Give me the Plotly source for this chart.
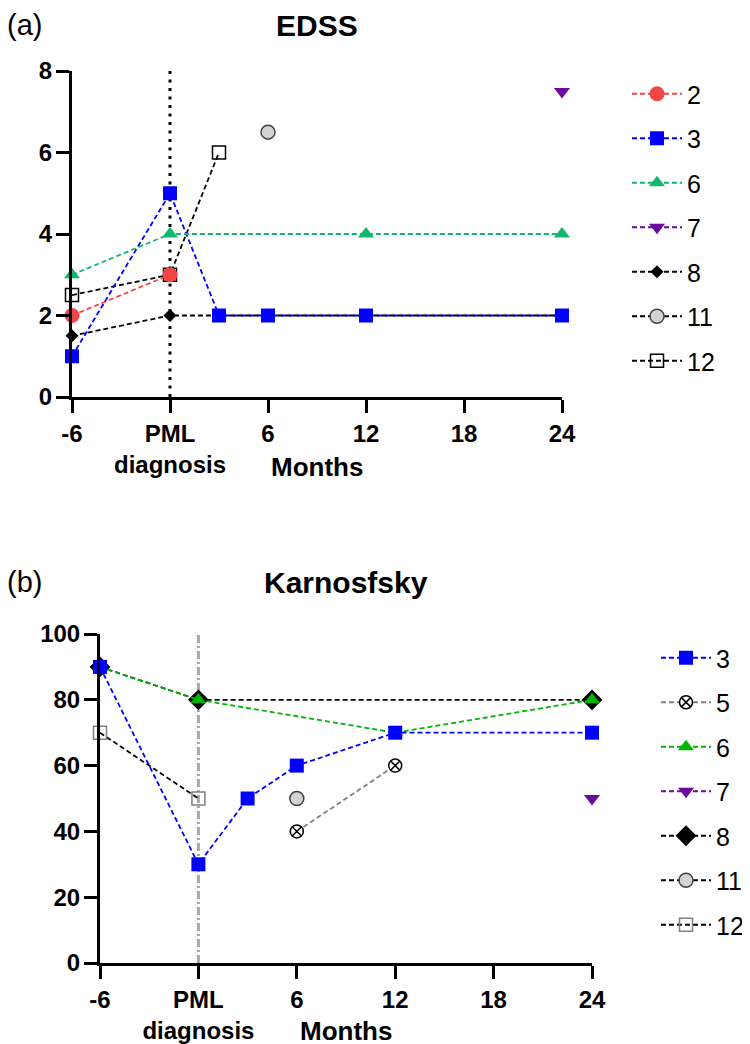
import plotly.graph_objects as go

FONT = "Liberation Sans, Arial, sans-serif"

# ---------------- data ----------------
tick_vals = [-6, 0, 6, 12, 18, 24]
tick_text = ["-6", "PML<br>diagnosis", "6", "12", "18", "24"]
edss_ticks = [0, 2, 4, 6, 8]
karn_ticks = [0, 20, 40, 60, 80, 100]

pml_x = [0, 0]
edss_vline_y = [0, 8]
karn_vline_y = [0, 100]

edss_2_x = [-6, 0];                 edss_2_y = [2, 3]
edss_3_x = [-6, 0, 3, 6, 12, 24];   edss_3_y = [1, 5, 2, 2, 2, 2]
edss_6_x = [-6, 0, 12, 24];         edss_6_y = [3, 4, 4, 4]
edss_7_x = [24];                    edss_7_y = [7.5]
edss_8_x = [-6, 0, 3, 6, 12, 24];   edss_8_y = [1.5, 2, 2, 2, 2, 2]
edss_11_x = [6];                    edss_11_y = [6.5]
edss_12_x = [-6, 0, 3];             edss_12_y = [2.5, 3, 6]

karn_3_x = [-6, 0, 3, 6, 12, 24];   karn_3_y = [90, 30, 50, 60, 70, 70]
karn_5_x = [6, 12];                 karn_5_y = [40, 60]
karn_6_x = [-6, 0, 12, 24];         karn_6_y = [90, 80, 70, 80]
karn_7_x = [24];                    karn_7_y = [50]
karn_8_x = [-6, 0, 24];             karn_8_y = [90, 80, 80]
karn_11_x = [6];                    karn_11_y = [50]
karn_12_x = [-6, 0];                karn_12_y = [70, 50]

RED = "#F24545"
BLUE = "#0000FF"
GREEN_A = "#12B76E"
GREEN_B = "#00B400"
PURPLE = "#6A0A9E"
GREYFILL = "#D3D3D3"
DASH = "5px,3px"

fig = go.Figure()

# vertical reference lines
fig.add_trace(go.Scatter(x=pml_x, y=edss_vline_y, mode="lines", xaxis="x", yaxis="y",
                         line=dict(color="black", width=3, dash="3px,5.5px"),
                         showlegend=False, hoverinfo="skip"))
fig.add_trace(go.Scatter(x=pml_x, y=karn_vline_y, mode="lines", xaxis="x2", yaxis="y2",
                         line=dict(color="#A6A6A6", width=3, dash="8px,3px,2px,3px"),
                         showlegend=False, hoverinfo="skip"))


def add(name, x, y, ax, legend, rank, symbol, size, mcolor, lcolor,
        mline_color=None, mline_width=0):
    fig.add_trace(go.Scatter(
        x=x, y=y, name=name, mode="lines+markers",
        xaxis="x" if ax == 1 else "x2", yaxis="y" if ax == 1 else "y2",
        legend=legend, legendgroup=legend + name, legendrank=rank,
        line=dict(color=lcolor, width=1.8, dash=DASH),
        marker=dict(symbol=symbol, size=size, color=mcolor,
                    line=dict(color=mline_color or mcolor, width=mline_width)),
        cliponaxis=False))


# panel (a) – draw order chosen so overlaps match
add("8", edss_8_x, edss_8_y, 1, "legend", 5, "diamond", 10, "black", "black")
add("12", edss_12_x, edss_12_y, 1, "legend", 7, "square-open", 13, "black", "black", "black", 1.5)
add("2", edss_2_x, edss_2_y, 1, "legend", 1, "circle", 15, RED, RED)
add("3", edss_3_x, edss_3_y, 1, "legend", 2, "square", 14, BLUE, BLUE)
add("6", edss_6_x, edss_6_y, 1, "legend", 3, "triangle-up", 14, GREEN_A, GREEN_A)
add("7", edss_7_x, edss_7_y, 1, "legend", 4, "triangle-down", 14, PURPLE, PURPLE)
add("11", edss_11_x, edss_11_y, 1, "legend", 6, "circle", 14, GREYFILL, "black", "#404040", 1.5)

# panel (b)
add("8", karn_8_x, karn_8_y, 2, "legend2", 5, "diamond", 16, "black", "black")
add("6", karn_6_x, karn_6_y, 2, "legend2", 3, "triangle-up", 14, GREEN_B, GREEN_B)
add("3", karn_3_x, karn_3_y, 2, "legend2", 1, "square", 14, BLUE, BLUE)
add("5", karn_5_x, karn_5_y, 2, "legend2", 2, "circle-x", 13, "white", "#808080", "black", 1.5)
add("7", karn_7_x, karn_7_y, 2, "legend2", 4, "triangle-down", 14, PURPLE, PURPLE)
add("11", karn_11_x, karn_11_y, 2, "legend2", 6, "circle", 14, GREYFILL, "black", "#404040", 1.5)
add("12", karn_12_x, karn_12_y, 2, "legend2", 7, "square-open", 13, "#808080", "black", "#808080", 1.5)

W, H = 750, 1044
OFF = 8  # page body margin offset


def px_x(p):
    return (p - OFF) / W


def px_y(p):
    return 1 - (p - OFF) / H


axis_common = dict(showline=True, linewidth=3, linecolor="black", ticks="outside",
                   ticklen=13, tickwidth=3, tickcolor="black", showgrid=False,
                   zeroline=False, tickfont=dict(family=FONT, size=24, color="black", weight="bold"))

xa = dict(axis_common, range=[-6, 24], tickvals=tick_vals, ticktext=tick_text, ticklabelstandoff=0)
ya = dict(axis_common, ticklabelstandoff=-1)

fig.update_layout(
    width=W, height=H, margin=dict(l=0, r=0, t=0, b=0, autoexpand=False),
    paper_bgcolor="white", plot_bgcolor="white",
    font=dict(family=FONT, color="black"),
    xaxis=dict(xa, domain=[px_x(72), px_x(562)], anchor="y"),
    yaxis=dict(ya, domain=[px_y(397), px_y(71)], range=[0, 8], tickvals=edss_ticks, anchor="x"),
    xaxis2=dict(xa, domain=[px_x(100), px_x(592)], anchor="y2"),
    yaxis2=dict(ya, domain=[px_y(963), px_y(634)], range=[0, 100], tickvals=karn_ticks, anchor="x2"),
    legend=dict(x=px_x(627), y=px_y(71), xanchor="left", yanchor="top", itemwidth=50,
                font=dict(family=FONT, size=25, color="black"), tracegroupgap=9,
                bgcolor="rgba(0,0,0,0)"),
    legend2=dict(x=px_x(656), y=px_y(635), xanchor="left", yanchor="top", itemwidth=50,
                 font=dict(family=FONT, size=25, color="black"), tracegroupgap=9,
                 bgcolor="rgba(0,0,0,0)"),
    showlegend=True,
)

annots = [
    dict(text="EDSS", xref="x domain", yref="paper", x=0.5, y=1.0, yanchor="top",
         font=dict(size=30, weight="bold")),
    dict(text="Karnosfsky", xref="x2 domain", yref="paper", x=0.5, y=px_y(582),
         font=dict(size=30, weight="bold")),
    dict(text="(a)", xref="paper", yref="paper", x=px_x(6), y=1.0, yanchor="top",
         xanchor="left", font=dict(size=29)),
    dict(text="(b)", xref="paper", yref="paper", x=px_x(6), y=px_y(582), xanchor="left",
         font=dict(size=29)),
    dict(text="Months", xref="x domain", yref="paper", x=0.5, y=px_y(467),
         font=dict(size=26, weight="bold")),
    dict(text="Months", xref="x2 domain", yref="paper", x=0.5, y=px_y(1031),
         font=dict(size=26, weight="bold")),
]
for a in annots:
    a.setdefault("xanchor", "center")
    a.setdefault("yanchor", "middle")
    a["showarrow"] = False
    a["borderpad"] = 0
    a["font"] = dict(family=FONT, color="black", **a["font"])
    fig.add_annotation(**a)

fig.write_html("out.html")
